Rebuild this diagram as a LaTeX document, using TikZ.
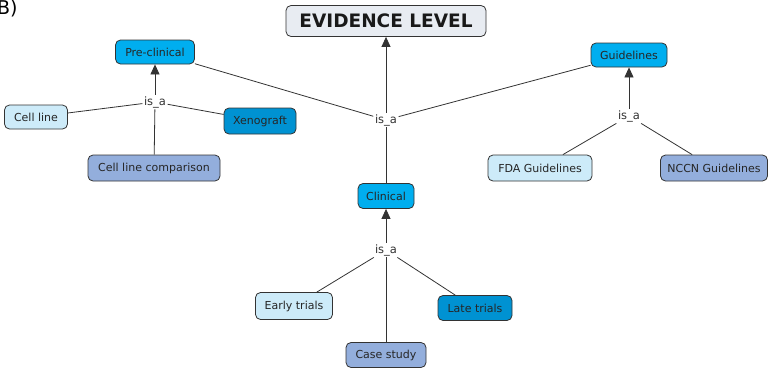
\documentclass[tikz,border=0pt]{standalone}
\usepackage{fontspec}
\setmainfont{DejaVu Sans}
\usetikzlibrary{arrows.meta}
\definecolor{cmain}{HTML}{00AEEF}
\definecolor{cdark}{HTML}{0092D2}
\definecolor{clight}{HTML}{CDEBF9}
\definecolor{cmid}{HTML}{93AEDC}
\definecolor{ctop}{HTML}{E8ECF2}
\definecolor{cline}{HTML}{333333}
\begin{document}
\begin{tikzpicture}[x=1pt,y=-1pt,
  concept/.style={draw=cline, line width=0.8pt, rounded corners=5pt, inner sep=0pt, minimum height=25pt, font=\fontsize{11}{13}\selectfont, text=black!85},
  linklabel/.style={fill=white, inner sep=1.5pt, font=\fontsize{11.5}{13}\selectfont, text=black!80},
  conn/.style={draw=cline, line width=0.8pt},
  arr/.style={conn, -{Triangle[length=10pt,width=9pt]}}]
\useasboundingbox (0,0) rectangle (768,367);
\node[font=\fontsize{19}{21}\selectfont, anchor=west, inner sep=0pt] (lab) at (-3,9) {B)};
\node[concept, fill=ctop, minimum width=200pt, minimum height=31pt, font=\bfseries\fontsize{18.5}{20}\selectfont, text=black!90] (ev) at (386,21) {EVIDENCE LEVEL};
\node[concept, fill=cmain, minimum width=79pt, minimum height=24pt] (pre) at (155,52) {Pre-clinical};
\node[concept, fill=cmain, minimum width=76pt, minimum height=24pt] (gui) at (629,55) {Guidelines};
\node[concept, fill=cmain, minimum width=56pt, minimum height=25pt] (cli) at (386,196) {Clinical};
\node[concept, fill=clight, minimum width=63pt, minimum height=24pt] (cell) at (36,117) {Cell line};
\node[concept, fill=cdark, minimum width=72pt, minimum height=26pt] (xen) at (260,121) {Xenograft};
\node[concept, fill=cmid, minimum width=132pt, minimum height=26pt] (clc) at (154,168) {Cell line comparison};
\node[concept, fill=clight, minimum width=104pt, minimum height=26pt] (fda) at (540,168) {FDA Guidelines};
\node[concept, fill=cmid, minimum width=107pt, minimum height=26pt] (nccn) at (714,168) {NCCN Guidelines};
\node[concept, fill=clight, minimum width=77pt, minimum height=27pt] (early) at (294,306) {Early trials};
\node[concept, fill=cdark, minimum width=74pt, minimum height=25pt] (late) at (475,308) {Late trials};
\node[concept, fill=cmid, minimum width=80pt, minimum height=25pt] (case) at (386,355) {Case study};
\node[linklabel] (i0) at (386,120) {is\_a};
\node[linklabel] (i1) at (155,102) {is\_a};
\node[linklabel] (i2) at (629,116) {is\_a};
\node[linklabel] (i3) at (386,250) {is\_a};
% top
\draw[conn] (pre) -- (i0);
\draw[conn] (gui) -- (i0);
\draw[conn] (cli) -- (i0);
\draw[arr] (i0) -- (ev);
% preclinical
\draw[conn] (cell) -- (i1);
\draw[conn] (xen) -- (i1);
\draw[conn] (clc) -- (i1);
\draw[arr] (i1) -- (pre);
% guidelines
\draw[conn] (fda) -- (i2);
\draw[conn] (nccn) -- (i2);
\draw[arr] (i2) -- (gui);
% clinical
\draw[conn] (early) -- (i3);
\draw[conn] (late) -- (i3);
\draw[conn] (case) -- (i3);
\draw[arr] (i3) -- (cli);
\end{tikzpicture}
\end{document}
